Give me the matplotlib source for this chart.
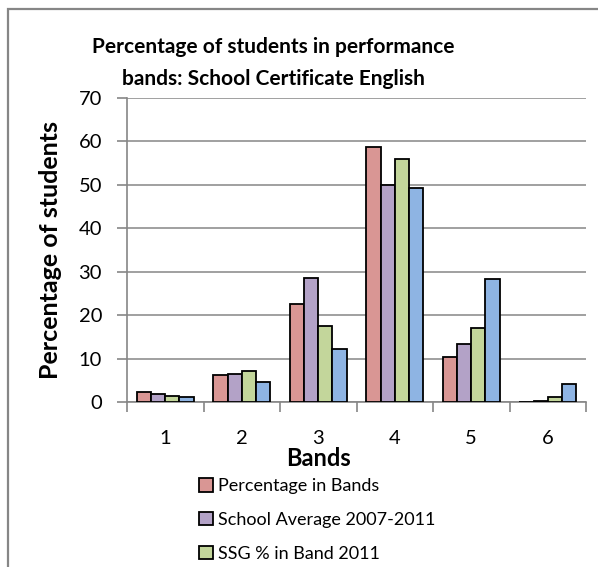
import matplotlib
matplotlib.use("Agg")
import matplotlib.pyplot as plt
import numpy as np
from matplotlib.patches import Rectangle, Patch

bands = ["1", "2", "3", "4", "5", "6"]
series_names = ["Percentage in Bands", "School Average 2007-2011",
                "SSG % in Band 2011", "State % in Band 2011"]
pct_in_bands = [2.2, 6.2, 22.6, 58.8, 10.3, 0.0]
school_avg = [1.8, 6.4, 28.5, 50.0, 13.3, 0.2]
ssg_2011 = [1.3, 7.1, 17.6, 55.9, 17.0, 1.1]
state_2011 = [1.1, 4.7, 12.3, 49.3, 28.4, 4.2]
colors = ["#D99694", "#B3A2C7", "#C3D69B", "#8EB4E3"]
yticks = [0, 10, 20, 30, 40, 50, 60, 70]

FONT = "Lato"
plt.rcParams['font.family'] = [FONT, 'DejaVu Sans']

W, H = 598, 567
fig = plt.figure(figsize=(W/100, H/100), dpi=100)
L, R, T, B = 127, 586, 98, 402
ax = fig.add_axes([L/W, 1 - B/H, (R-L)/W, (B-T)/H])

data = [pct_in_bands, school_avg, ssg_2011, state_2011]
x = np.arange(len(bands))
bw = 0.185
for i, (vals, c, name) in enumerate(zip(data, colors, series_names)):
    ax.bar(x + (i - 1.5) * bw, vals, width=bw, color=c, edgecolor="black",
           linewidth=1.3, label=name, zorder=3)

ax.set_xlim(-0.5, len(bands) - 0.5)
ax.set_ylim(0, 70)
ax.set_yticks(yticks)
ax.set_yticklabels([str(v) for v in yticks], fontsize=14.5)
ax.yaxis.grid(True, color="#868686", linewidth=1.1, zorder=0)
ax.set_axisbelow(True)

ax.set_xticks(x)
ax.set_xticklabels(bands, fontsize=14.5)
ax.tick_params(axis='x', length=0, pad=20)
ax.set_xticks(np.arange(-0.5, len(bands)), minor=True)
ax.tick_params(axis='x', which='minor', length=7, color="#868686", width=1.2)
ax.tick_params(axis='y', length=7, color="#868686", width=1.2, pad=11)

for s in ["top", "right"]:
    ax.spines[s].set_visible(False)
for s in ["left", "bottom"]:
    ax.spines[s].set_color("#868686")
    ax.spines[s].set_linewidth(1.2)

fig.text(273/W, 1 - 63/H, "Percentage of students in performance\nbands: School Certificate English",
         ha="center", va="center", fontsize=15, fontweight="bold", linespacing=1.7)
fig.text(51/W, 1 - 250/H, "Percentage of students", rotation=90, ha="center",
         va="center", fontsize=18, fontweight="bold")
fig.text(318/W, 1 - 459/H, "Bands", ha="center", va="center", fontsize=17,
         fontweight="bold")

# only the first three legend entries fall inside the cropped picture
handles = [Patch(facecolor=c, edgecolor="black", linewidth=1.3) for c in colors[:3]]
fig.legend(handles, series_names[:3], loc="upper left",
           bbox_to_anchor=(199/W, 1 - 478/H), frameon=False, fontsize=13,
           handlelength=0.78, handleheight=0.78, handletextpad=0.3,
           labelspacing=0.98, borderaxespad=0, borderpad=0)

fig.patches.append(Rectangle((7.5/W, -0.1), 1.2, (H - 8.5)/H + 0.1,
                             transform=fig.transFigure, fill=False,
                             edgecolor="#868686", linewidth=1.6))

fig.savefig("out.png", dpi=100)
